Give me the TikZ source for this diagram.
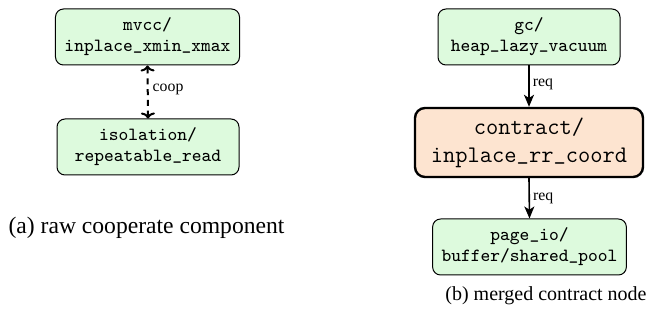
\documentclass[tikz,border=0pt]{standalone}
\usepackage{fontspec}
\setmainfont{Liberation Serif}
\usetikzlibrary{arrows.meta}
\definecolor{gfill}{RGB}{221,250,221}
\definecolor{cfill}{RGB}{253,228,208}
\newcommand{\us}{\raisebox{0.1em}{\_}}
\begin{document}
\begin{tikzpicture}[x=0.5pt,y=-0.5pt,
  gbox/.style={draw=black, line width=0.5pt, rounded corners=4pt, fill=gfill, align=center,
    font=\fontsize{9.3}{10.5}\selectfont\ttfamily, minimum width=91pt, minimum height=28pt, inner xsep=4.5pt},
  cbox/.style={draw=black, line width=1.2pt, rounded corners=5pt, fill=cfill, align=center,
    font=\fontsize{11.9}{14}\selectfont\ttfamily, minimum width=114pt, minimum height=34.5pt},
  elabel/.style={font=\fontsize{7.9}{9}\selectfont, inner sep=0.5pt, anchor=west},
  cooparrow/.style={line width=1pt, dash pattern=on 3pt off 2.4pt,
    {Computer Modern Rightarrow[width=7pt,length=3pt,line width=1pt]}-{Computer Modern Rightarrow[width=7pt,length=3pt,line width=1pt]}},
  reqarrow/.style={line width=0.8pt, -{Stealth[length=6pt,width=5pt,inset=1.6pt]}},
  capa/.style={font=\fontsize{11.8}{13}\selectfont, inner sep=0pt},
  capb/.style={font=\fontsize{10}{12}\selectfont, inner sep=0pt}]
\useasboundingbox (0,0) rectangle (649,336);
% (a)
\node[gbox] (mvcc) at (147.5,37) {mvcc/\\inplace\us xmin\us xmax};
\node[gbox] (iso) at (148,147) {isolation/\\repeatable\us read};
\draw[cooparrow] (mvcc.south) -- node[elabel, pos=0.45, xshift=1.5pt] {coop} (iso.north);
\node[capa] (capA) at (146.5,228) {(a) raw cooperate component};
% (b)
\node[gbox] (gc) at (529,37) {gc/\\heap\us lazy\us vacuum};
\node[cbox] (ct) at (529,142.5) {contract/\\inplace\us rr\us coord};
\node[gbox] (pio) at (529.5,247) {page\us io/\\buffer/shared\us pool};
\draw[reqarrow] (gc.south) -- node[elabel, pos=0.45, xshift=1pt] {req} (ct.north);
\draw[reqarrow] (ct.south) -- node[elabel, pos=0.5, xshift=1pt] {req} (pio.north);
\node[capb] (capB) at (546,296) {(b) merged contract node};
\end{tikzpicture}
\end{document}
